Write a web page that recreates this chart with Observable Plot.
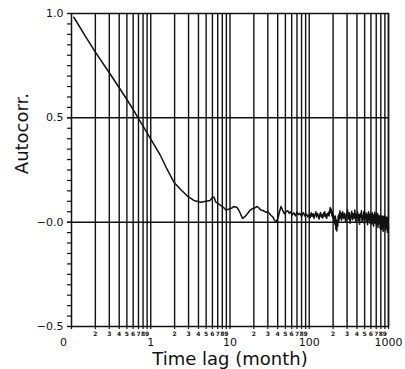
<!DOCTYPE html>
<html>
<head>
<meta charset="utf-8">
<script src="https://cdn.jsdelivr.net/npm/d3@7"></script>
<script src="https://cdn.jsdelivr.net/npm/@observablehq/plot@0.6"></script>
<style>
  html, body { margin: 0; padding: 0; background: #fff; }
  #chart { width: 405px; height: 369px; }
</style>
</head>
<body>
<div id="chart"></div>
<script>
// ---- data ----
const xTickValues = [0.1, 1, 10, 100, 1000];
const xTickLabels = ["0", "1", "10", "100", "1000"];
const decades = [0.1, 1, 10, 100];
const minorDigits = [2, 3, 4, 5, 6, 7, 8, 9];
const yTickValues = [-0.5, 0, 0.5, 1.0];
const yTickLabels = ["\u22120.5", "\u22120.0", "0.5", "1.0"];
const yMinorTicks = [-0.5,-0.45,-0.4,-0.35,-0.3,-0.25,-0.2,-0.15,-0.1,-0.05,0,0.05,0.1,0.15,0.2,0.25,0.3,0.35,0.4,0.45,0.5,0.55,0.6,0.65,0.7,0.75,0.8,0.85,0.9,0.95,1.0];
const hLines = [0, 0.5];
const xTitle = "Time lag (month)";
const yTitle = "Autocorr.";

// autocorrelation curve: [lag (months), value]
const smoothPart = [
  [0.107,0.982],[0.15,0.89],[0.2,0.815],[0.3,0.716],[0.4,0.644],[0.5,0.588],[0.6,0.54],
  [0.69,0.5],[0.8,0.46],[0.95,0.412],[1.15,0.36],[1.34,0.316],[1.6,0.255],[1.97,0.19],
  [2.4,0.155],[2.9,0.125],[3.5,0.104],[4.3,0.095],[5.0,0.1],[5.6,0.104],[6.0,0.118],
  [6.3,0.12],[6.6,0.097],[7.0,0.09],[7.7,0.079],[8.3,0.07],[8.9,0.058],[9.8,0.063],
  [10.5,0.068],[11.3,0.075],[12.3,0.07],[13.2,0.05],[14.4,0.018],[15.3,0.025],[16.6,0.04],
  [18.0,0.058],[19,0.064],[20.5,0.068],[22,0.075],[23.5,0.066],[24.5,0.058],[26,0.056],
  [28.6,0.047],[30,0.05],[31.6,0.04],[33,0.032],[34.9,0.024],[36,0.012],[38,0.0],[39.5,0.012],
  [41,0.03],[42.5,0.055],[44,0.075],[46,0.058],[48.6,0.04],[51,0.05],[53.5,0.055],[56,0.042],
  [58,0.05],[61,0.035],[64,0.045],[67,0.03],[70,0.048],[73,0.036],[76,0.042],[80,0.028],
  [84,0.046],[88,0.03],[92,0.04],[96,0.025]
];
const noisyPart1 = [
  [100,0.038],[103,0.022],[106,0.045],[109,0.028],[112,0.04],[115,0.018],[118,0.035],[121,0.05],
  [124,0.025],[127,0.042],[130,0.03],[133,0.015],[136,0.038],[139,0.046],[142,0.024],[145,0.035],
  [148,0.02],[151,0.044],[154,0.03],[157,0.05],[160,0.026],[163,0.038],[166,0.018],[169,0.04],
  [172,0.032],[175,0.048],[178,0.03],
  [181,0.055],[184,0.07],[187,0.045],[190,0.062],[193,0.03],[196,0.05],[199,0.02],[202,0.035],
  [205,0.0],[208,0.025],[211,-0.01],[214,0.03],[217,-0.035],[220,0.01],[223,-0.042],[226,0.005],
  [229,-0.02],[232,0.03],[235,0.0],[238,0.04],[241,0.015],[244,0.055],[247,0.02],[250,0.045]
];
const noisyPart2 = [
  [256,0.01],[264,0.05],[272,0.018],[280,0.042],[288,0.0],[296,0.035],[304,0.06],[312,0.015],
  [320,0.045],[328,-0.005],[336,0.03],[344,0.052],[352,0.012],[360,0.04],[368,0.02],[376,0.058],
  [384,0.005],[392,0.038],[400,0.022],
  [408,0.048],[416,0.008],[424,0.035],[432,-0.01],[440,0.04],[448,0.025],[456,0.055],[464,0.0],
  [472,0.03],[480,0.015],[488,0.05],[496,-0.008],[504,0.032],[512,0.02],[520,0.045],[528,0.005],
  [536,0.038],[544,-0.012],[552,0.028],[560,0.05],[568,0.01],[576,0.035],[584,-0.005],[592,0.042],
  [600,0.018],
  [608,0.03],[616,-0.01],[624,0.045],[632,0.008],[640,0.025],[648,-0.02],[656,0.038],[664,0.012],
  [672,0.048],[680,-0.005],[688,0.02],[696,0.035],[704,-0.015],[712,0.03],[720,0.005],[728,0.042],
  [736,-0.025],[744,0.018],[752,0.032],[760,-0.008],[768,0.025],[776,0.01],[784,-0.03],[792,0.035],
  [800,0.0],
  [808,0.022],[816,-0.035],[824,0.015],[832,0.03],[840,-0.01],[848,0.025],[856,-0.045],[864,0.012],
  [872,0.028],[880,-0.02],[888,0.018],[896,-0.005],[904,0.03],[912,-0.04],[920,0.01],[928,0.022],
  [936,-0.03],[944,0.015],[952,-0.012],[960,0.025],[968,-0.05],[976,0.005],[984,0.018],[992,-0.035],
  [1000,-0.02]
];

// ---- build tables for the library ----
const series = [...smoothPart, ...noisyPart1, ...noisyPart2].map(([lag, value]) => ({lag, value}));
const gridPositions = decades.flatMap(d => minorDigits.map(m => d * m)).concat(decades.map(d => d * 10));
const minorLabels = decades.flatMap(d => minorDigits.map(m => ({x: d * m, label: String(m)})));
const majorLabels = xTickValues.map((x, i) => ({x, label: xTickLabels[i]}));

const ink = "#111";
const chart = Plot.plot({
  width: 405,
  height: 369,
  marginLeft: 71,
  marginRight: 17,
  marginTop: 13,
  marginBottom: 43,
  x: {type: "log", domain: [0.1, 1000]},
  y: {domain: [-0.5, 1.0]},
  style: {fontFamily: "DejaVu Sans", background: "#fff", color: ink},
  marks: [
    Plot.ruleX(gridPositions, {stroke: ink, strokeWidth: 1.4}),
    Plot.ruleY(hLines, {stroke: ink, strokeWidth: 1.5}),
    Plot.frame({stroke: ink, strokeWidth: 1.5}),
    Plot.axisY(yMinorTicks, {label: null, tickSize: 4, tickFormat: () => "", stroke: ink, strokeWidth: 1.2}),
    Plot.axisY(yTickValues, {
      label: null, tickSize: 4, tickPadding: 4, stroke: ink, strokeWidth: 1.2,
      fontSize: 11, fill: ink,
      tickFormat: d => yTickLabels[yTickValues.indexOf(d)]
    }),
    Plot.axisX(gridPositions.concat([0.1]), {label: null, tickSize: 3, tickFormat: () => "", stroke: ink, strokeWidth: 1.2}),
    Plot.text(minorLabels, {x: "x", y: () => -0.5, text: "label", dy: 8, fontSize: 6, fontWeight: "bold", fill: ink}),
    Plot.text(majorLabels.slice(0, 1), {x: "x", y: () => -0.5, text: "label", dy: 16, dx: -8, fontSize: 11, fill: ink}),
    Plot.text(majorLabels.slice(1), {x: "x", y: () => -0.5, text: "label", dy: 16, fontSize: 11, fill: ink}),
    Plot.text([xTitle], {x: () => 10, y: () => -0.5, text: d => d, dy: 33, fontSize: 18, fill: ink, letterSpacing: "2px"}),
    Plot.text([yTitle], {y: () => 0.23, frameAnchor: "left", text: d => d, dx: -49, rotate: -90, fontSize: 18, fill: ink, letterSpacing: "0.5px"}),
    Plot.line(series, {x: "lag", y: "value", stroke: ink, strokeWidth: 1.5})
  ]
});
document.getElementById("chart").appendChild(chart);
</script>
</body>
</html>
